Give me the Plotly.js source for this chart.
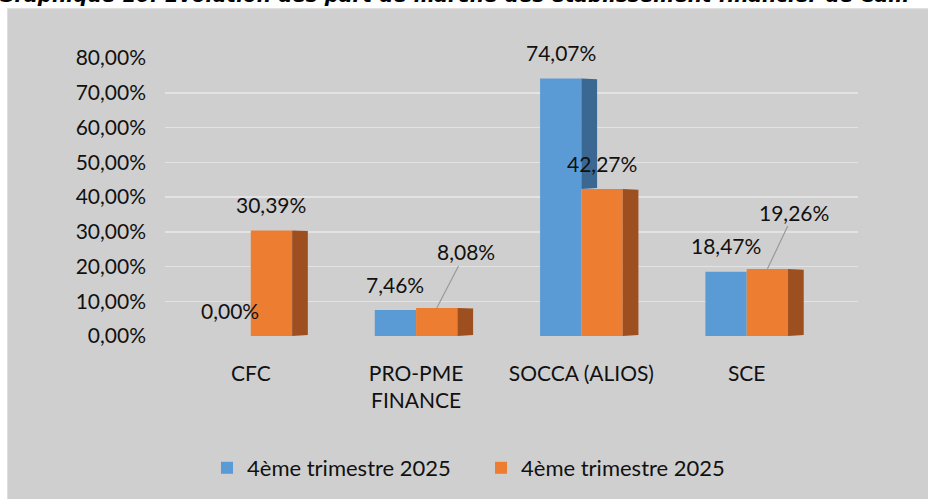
<!DOCTYPE html>
<html>
<head>
<meta charset="utf-8">
<script src="https://cdn.plot.ly/plotly-3.0.1.min.js"></script>
<style>html,body{margin:0;padding:0;background:#fff;}#chart{width:928px;height:499px;}</style>
</head>
<body>
<div id="chart"></div>
<script>
// ---- data ----
const categories = ["CFC", "PRO-PME<br>FINANCE", "SOCCA (ALIOS)", "SCE"];
const seriesNames = ["4ème trimestre 2025", "4ème trimestre 2025"];
const seriesA = [0.00, 7.46, 74.07, 18.47];
const seriesB = [30.39, 8.08, 42.27, 19.26];
const yTicks = [0, 10, 20, 30, 40, 50, 60, 70, 80];
const titleText = "Graphique 10: Evolution des part de marché des établissement financier de Cam";

// ---- style ----
const FONT = "Lato, 'Open Sans', sans-serif";
const FS = 21;
const blue = "#5b9bd5", blueSide = "#3a6893";
const orange = "#ed7d31", orangeSide = "#9e4f1f";
const W = 928, H = 499, ML = 165, MR = 70, MT = 58, MB = 162;
const PW = W - ML - MR, PH = H - MT - MB;
const px2x = p => (p - ML) / PW;
const px2y = p => (H - MB - p) / PH;
const barW = 0.25, depth = 0.095;
// labels drawn with leader lines (series B, category index): offsets in px
const leader = {1: [29, -56], 3: [27, -57]};

const fmt = v => v.toFixed(2).replace('.', ',') + '%';
const xs = categories.map((c, i) => i);

const traces = [];
function sideFace(xr, lo, hi, color) {
  return {
    type: 'scatter', mode: 'lines', fill: 'toself', fillcolor: color,
    line: {width: 0, color: color}, hoverinfo: 'skip', showlegend: false,
    x: [xr, xr + depth, xr + depth, xr, xr],
    y: [lo, lo + 0.3, hi - 0.2, hi, lo]
  };
}
traces.push({type: 'bar', name: seriesNames[0], x: xs, y: seriesA, width: barW, offset: -barW,
  marker: {color: blue, line: {width: 0}}, hoverinfo: 'skip'});
traces.push({type: 'bar', name: seriesNames[1], x: xs, y: seriesB, width: barW, offset: 0,
  marker: {color: orange, line: {width: 0}}, hoverinfo: 'skip'});
xs.forEach((x, i) => {
  if (seriesA[i] > seriesB[i]) traces.push(sideFace(x, seriesB[i], seriesA[i], blueSide));
  traces.push(sideFace(x + barW, 0, seriesB[i], orangeSide));
});

const annotations = [];
xs.forEach((x, i) => {
  annotations.push({x: x - barW / 2, y: seriesA[i], xref: 'x', yref: 'y', text: fmt(seriesA[i]),
    showarrow: false, yshift: 26, font: {family: FONT, size: FS, color: '#111'}});
  if (leader[i]) {
    annotations.push({x: x + barW / 2, y: seriesB[i], xref: 'x', yref: 'y', text: fmt(seriesB[i]),
      showarrow: true, arrowhead: 0, arrowwidth: 1.2, arrowcolor: '#9a9a9a',
      ax: leader[i][0], ay: leader[i][1], standoff: 0,
      font: {family: FONT, size: FS, color: '#111'}});
  } else {
    annotations.push({x: x + barW / 2, y: seriesB[i], xref: 'x', yref: 'y', text: fmt(seriesB[i]),
      showarrow: false, yshift: 26, font: {family: FONT, size: FS, color: '#111'}});
  }
});
annotations.push({xref: 'paper', yref: 'paper', x: px2x(-4), y: px2y(-5), xanchor: 'left', yanchor: 'middle',
  text: '<b><i>' + titleText + '</i></b>', showarrow: false,
  font: {family: "'DejaVu Sans', Verdana, sans-serif", size: 20, color: '#000'}});

const layout = {
  width: W, height: H,
  margin: {l: ML, r: MR, t: MT, b: MB, pad: 0},
  paper_bgcolor: '#ffffff', plot_bgcolor: 'rgba(0,0,0,0)',
  barmode: 'overlay',
  font: {family: FONT, size: FS, color: '#111'},
  xaxis: {range: [(165 - 250.8) / 165.3, (858 - 250.8) / 165.3],
    tickmode: 'array', tickvals: xs, ticktext: categories, showgrid: false, zeroline: false,
    showline: false, ticks: '', ticklabelstandoff: 23, tickfont: {family: FONT, size: FS, color: '#111'}, fixedrange: true},
  yaxis: {range: [0, 80], tickmode: 'array', tickvals: yTicks, ticktext: yTicks.map(fmt),
    showgrid: true, gridcolor: '#e3e3e3', gridwidth: 1.5, zeroline: false, showline: false, ticks: '',
    ticklabelstandoff: 18, tickfont: {family: FONT, size: FS, color: '#111'}, fixedrange: true},
  legend: {orientation: 'h', x: px2x(207), xanchor: 'left', y: px2y(468), yanchor: 'middle',
    entrywidth: 229, entrywidthmode: 'pixels',
    font: {family: FONT, size: 22, color: '#111'}, bgcolor: 'rgba(0,0,0,0)', traceorder: 'normal'},
  shapes: [{type: 'rect', xref: 'paper', yref: 'paper', layer: 'below',
    x0: px2x(7.5), x1: px2x(940), y0: px2y(510), y1: px2y(8.5),
    fillcolor: '#d0cfcf', line: {color: '#dedede', width: 1}}],
  annotations: annotations,
  showlegend: true
};
Plotly.newPlot('chart', traces, layout, {displayModeBar: false, staticPlot: true});
</script>
</body>
</html>
